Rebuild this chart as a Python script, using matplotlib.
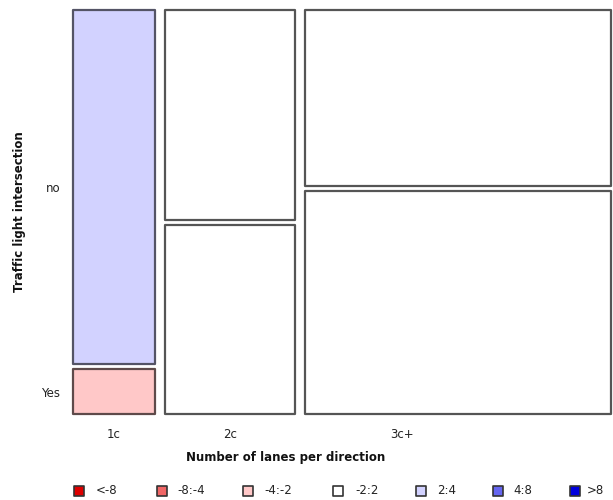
import matplotlib
matplotlib.use("Agg")
import matplotlib.pyplot as plt
from matplotlib.patches import Rectangle

# ---- data ----
lanes = ["1c", "2c", "3c+"]
rows = ["no", "Yes"]
count_no = [63, 59, 117]
count_yes = [8, 53, 148]
# residual class of each cell (index into legend_labels)
class_no = [4, 3, 3]
class_yes = [2, 3, 3]
legend_labels = ["<-8", "-8:-4", "-4:-2", "-2:2", "2:4", "4:8", ">8"]
legend_colors = ["#DD0000", "#F06666", "#FFC8C8", "#FFFFFF", "#D2D2FF", "#6666F0", "#0000DD"]
edge_colors = ["#602020", "#603838", "#5E4A4A", "#555555", "#545466", "#383860", "#202060"]

W, H = 613, 500
fig = plt.figure(figsize=(W / 100, H / 100), dpi=100)
ax = fig.add_axes([73 / W, 86 / H, (611 - 73) / W, 404 / H])
ax.set_xlim(0, 1)
ax.set_ylim(0, 1)
for s in ax.spines.values():
    s.set_visible(False)

gx = 10 / 538
gy = 5.5 / 404
totals = [a + b for a, b in zip(count_no, count_yes)]
N = sum(totals)
x = 0.0
centers = []
yes_centers = []
no_centers = []
for i in range(len(lanes)):
    w = totals[i] / N * (1 - gx * (len(lanes) - 1))
    h_yes = count_yes[i] / totals[i] * (1 - gy)
    h_no = count_no[i] / totals[i] * (1 - gy)
    cy, cn = class_yes[i], class_no[i]
    ax.add_patch(Rectangle((x, 0), w, h_yes, facecolor=legend_colors[cy],
                           edgecolor=edge_colors[cy], linewidth=1.6, joinstyle="round",
                           clip_on=False))
    ax.add_patch(Rectangle((x, h_yes + gy), w, h_no, facecolor=legend_colors[cn],
                           edgecolor=edge_colors[cn], linewidth=1.6, joinstyle="round",
                           clip_on=False))
    centers.append(x + w / 2)
    yes_centers.append(h_yes / 2)
    no_centers.append(h_yes + gy + h_no / 2)
    x += w + gx

tick_x = [centers[0], centers[1], (402 - 73) / 538]
ax.set_xticks(tick_x)
ax.set_xticklabels(lanes, fontsize=8.5, color="#222222")
ax.set_yticks([no_centers[0], yes_centers[0]])
ax.set_yticklabels(rows, fontsize=8.5, color="#222222")
ax.tick_params(length=0, pad=9)
ax.tick_params(axis="x", pad=10)

fig.text(286 / W, 1 - 458 / H, "Number of lanes per direction", ha="center", va="center",
         fontsize=8.5, fontweight="bold", color="#111111")
fig.text(20 / W, 1 - 212 / H, "Traffic light intersection", ha="center", va="center",
         rotation=90, fontsize=8.5, fontweight="bold", color="#111111")

# legend
sq_cx = [79, 162, 248, 338, 421, 498, 575]
txt_x = [96, 177, 264, 355, 437, 513, 587]
ly = 491
for i, lab in enumerate(legend_labels):
    fig.patches.append(Rectangle(((sq_cx[i] - 5) / W, 1 - (ly + 5) / H), 10 / W, 10 / H,
                                 transform=fig.transFigure, facecolor=legend_colors[i],
                                 edgecolor="#333333", linewidth=1.2, joinstyle="round"))
    fig.text(txt_x[i] / W, 1 - ly / H, lab, ha="left", va="center", fontsize=8.5,
             color="#222222")

fig.savefig("out.png", dpi=100)
